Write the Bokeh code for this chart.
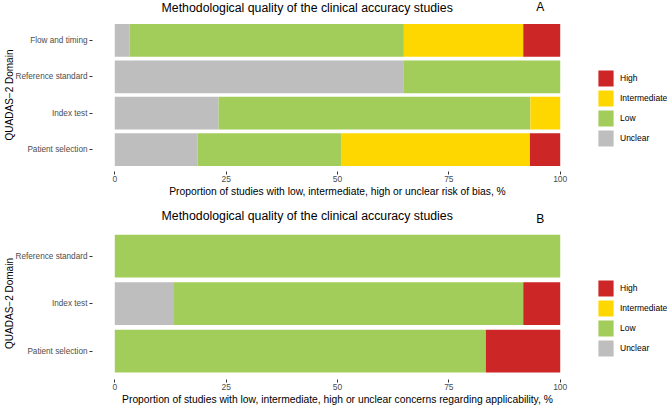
from bokeh.plotting import figure
from bokeh.layouts import column
from bokeh.models import Range1d, FixedTicker, Legend, LegendItem, Label
from bokeh.embed import file_html
from bokeh.resources import INLINE

# ---- data ----
levels = ["Unclear", "Low", "Intermediate", "High"]
level_colors = ["#BEBEBE", "#A2CD5A", "#FFD700", "#CD2626"]

domains_a = ["Patient selection", "Index test", "Reference standard", "Flow and timing"]
unclear_a = [18.6, 23.3, 64.9, 3.3]
low_a = [32.2, 70.0, 35.1, 61.6]
intermediate_a = [42.4, 6.7, 0.0, 26.8]
high_a = [6.8, 0.0, 0.0, 8.3]

domains_b = ["Patient selection", "Index test", "Reference standard"]
unclear_b = [0.0, 13.3, 0.0]
low_b = [83.3, 78.4, 100.0]
intermediate_b = [0.0, 0.0, 0.0]
high_b = [16.7, 8.3, 0.0]

x_ticks = [0, 25, 50, 75, 100]
title_text = "Methodological quality of the clinical accuracy studies"
xlabel_a = "Proportion of studies with low, intermediate, high or unclear risk of bias, %"
xlabel_b = "Proportion of studies with low, intermediate, high or unclear concerns regarding applicability, %"
ylabel = "QUADAS\u22122 Domain"

FONT = "Liberation Sans"
BL = 92
BR = 85
FRAME_W = 490
X0, X1 = -5, 105


def title_fig(tag, H, title_px, tag_px):
    p = figure(frame_width=FRAME_W, frame_height=H, output_backend="svg",
               toolbar_location=None, x_range=Range1d(X0, X1), y_range=Range1d(0, H),
               min_border_left=BL, min_border_right=BR, min_border_top=0,
               min_border_bottom=0, x_axis_location=None, y_axis_location=None)
    p.outline_line_color = None
    p.xgrid.grid_line_color = None
    p.ygrid.grid_line_color = None
    p.add_layout(Label(x=43.2, y=H - title_px, text=title_text, text_align="center",
                       text_baseline="middle", text_font=FONT, text_font_size="12.3px",
                       text_color="#000000"))
    p.add_layout(Label(x=95.5, y=H - tag_px, text=tag, text_align="center",
                       text_baseline="middle", text_font=FONT, text_font_size="12px",
                       text_color="#000000"))
    return p


def panel(domains, vals, xlabel, frame_h, bbot, legend_y):
    n = len(domains)
    p = figure(frame_width=FRAME_W, frame_height=frame_h, output_backend="svg",
               toolbar_location=None,
               x_range=Range1d(X0, X1), y_range=Range1d(0.4, n + 0.6),
               min_border_left=BL, min_border_right=BR, min_border_top=0,
               min_border_bottom=bbot)
    p.outline_line_color = None
    p.xgrid.grid_line_color = None
    p.ygrid.grid_line_color = None
    ypos = [i + 1 for i in range(n)]
    data = {"ypos": ypos}
    for lv, v in zip(levels, vals):
        data[lv] = v
    rs = p.hbar_stack(levels, y="ypos", height=0.9, color=level_colors, source=data,
                      line_color=None)
    for ax in (p.xaxis[0], p.yaxis[0]):
        ax.axis_line_color = None
        ax.major_tick_line_color = "#333333"
        ax.major_tick_out = 3
        ax.major_tick_in = 0
        ax.minor_tick_line_color = None
        ax.major_label_text_color = "#4D4D4D"
        ax.major_label_text_font = FONT
        ax.major_label_text_font_size = "8.5px"
        ax.axis_label_text_font = FONT
        ax.axis_label_text_font_size = "10.3px"
        ax.axis_label_text_font_style = "normal"
        ax.axis_label_text_color = "#000000"
    p.xaxis.major_label_standoff = 1
    p.xaxis.axis_label_standoff = 1
    p.yaxis.major_label_text_font_size = "8.2px"
    p.yaxis.major_label_standoff = 2
    p.yaxis.axis_label_standoff = -2
    p.yaxis.axis_label_text_font_size = "10px"
    p.xaxis.ticker = FixedTicker(ticks=x_ticks)
    p.yaxis.ticker = FixedTicker(ticks=ypos)
    p.yaxis.major_label_overrides = {y: d for y, d in zip(ypos, domains)}
    p.xaxis.axis_label = xlabel
    p.yaxis.axis_label = ylabel

    items = [LegendItem(label=lv, renderers=[r]) for lv, r in zip(levels, rs)][::-1]
    leg = Legend(items=items, location=(14, legend_y), orientation="vertical",
                 glyph_width=19, glyph_height=20, label_height=20, spacing=-4, padding=0,
                 margin=0, label_standoff=5, label_text_font=FONT,
                 label_text_font_size="8.5px", label_text_color="#000000",
                 border_line_color=None, background_fill_alpha=0)
    p.add_layout(leg, "right")
    return p


ta = title_fig("A", 18, 7.5, 6)
pa = panel(domains_a, [unclear_a, low_a, intermediate_a, high_a], xlabel_a, 153, 29, 23)
tb = title_fig("B", 27, 15, 18)
pb = panel(domains_b, [unclear_b, low_b, intermediate_b, high_b], xlabel_b, 152, 26, 21)

layout = column(ta, pa, tb, pb, spacing=0)
open("out.html", "w").write(file_html(layout, INLINE))
